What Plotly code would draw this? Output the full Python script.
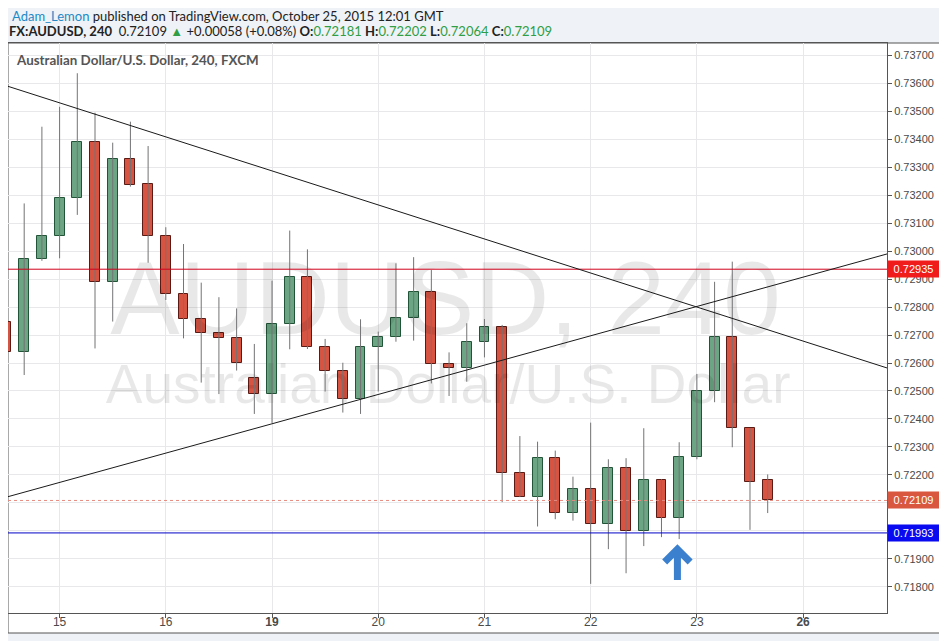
import plotly.graph_objects as go

# ---------------- data (4h candles, index 0..43) ----------------
CANDLE_INDEX = list(range(44))
OPEN = [0.72745, 0.72640, 0.72970, 0.73054, 0.73188, 0.73390, 0.72890, 0.73327, 0.73238, 0.73054,
        0.72845, 0.72756, 0.72706, 0.72688, 0.72545, 0.72488, 0.72738, 0.72908, 0.72656, 0.72573,
        0.72470, 0.72656, 0.72692, 0.72760, 0.72855, 0.72597, 0.72583, 0.72674, 0.72728, 0.72206,
        0.72123, 0.72260, 0.72063, 0.72149, 0.72024, 0.72224, 0.71999, 0.72182, 0.72046, 0.72263,
        0.72500, 0.72692, 0.72367, 0.72181]
HIGH = [0.72819, 0.73170, 0.73444, 0.73515, 0.73635, 0.73494, 0.73387, 0.73462, 0.73375, 0.73085,
        0.73025, 0.72887, 0.72835, 0.72795, 0.72668, 0.72894, 0.73073, 0.73006, 0.72686, 0.72601,
        0.72756, 0.72712, 0.72956, 0.72978, 0.72932, 0.72638, 0.72742, 0.72757, 0.72736, 0.72339,
        0.72319, 0.72287, 0.72194, 0.72387, 0.72256, 0.72260, 0.72367, 0.72185, 0.72317, 0.72561,
        0.72890, 0.72962, 0.72367, 0.72202]
LOW = [0.72462, 0.72557, 0.72965, 0.72974, 0.73129, 0.72652, 0.72748, 0.73230, 0.72958, 0.72825,
       0.72688, 0.72530, 0.72489, 0.72573, 0.72418, 0.72386, 0.72649, 0.72650, 0.72498, 0.72423,
       0.72418, 0.72498, 0.72676, 0.72680, 0.72527, 0.72482, 0.72533, 0.72620, 0.72103, 0.72121,
       0.72016, 0.72042, 0.72037, 0.71811, 0.71935, 0.71849, 0.71946, 0.71978, 0.71971, 0.72256,
       0.72460, 0.72299, 0.72004, 0.72064]
CLOSE = [0.72640, 0.72970, 0.73054, 0.73188, 0.73390, 0.72890, 0.73327, 0.73236, 0.73054, 0.72845,
         0.72756, 0.72706, 0.72688, 0.72601, 0.72488, 0.72738, 0.72908, 0.72656, 0.72573, 0.72470,
         0.72656, 0.72692, 0.72760, 0.72855, 0.72597, 0.72583, 0.72674, 0.72728, 0.72206, 0.72123,
         0.72260, 0.72063, 0.72149, 0.72024, 0.72224, 0.71999, 0.72182, 0.72046, 0.72263, 0.72500,
         0.72692, 0.72367, 0.72174, 0.72109]

DAY_TICK_INDEX = [3, 9, 15, 21, 27, 33, 39, 45]
DAY_TICK_LABELS = ["15", "16", "<b>19</b>", "20", "21", "22", "23", "<b>26</b>"]

RESISTANCE = 0.72935
SUPPORT = 0.71993
LAST_PRICE = 0.72109

TREND_DOWN_X = [0, 50]
TREND_DOWN_Y = [0.73590, 0.72577]
TREND_UP_X = [0, 50]
TREND_UP_Y = [0.72121, 0.72994]

ARROW_X = 37.9
ARROW_TIP = 0.71935
ARROW_TAIL = 0.71825

# ---------------- style ----------------
UP_FILL, UP_LINE = "#6ba583", "#225437"
DN_FILL, DN_LINE = "#d75442", "#5b1a13"
WICK = "#737375"
GRID = "#e8e8ea"
AXIS = "#555555"
PAGE = "#eff2f6"
TICKFONT = dict(family="Liberation Sans, Arial, sans-serif", size=11, color="#4a4a4a")

fig = go.Figure()

# watermark (behind candles)
fig.add_trace(go.Scatter(
    x=[24.8], y=[0.72797], mode="text", text=["AUDUSD, 240"],
    textfont=dict(family="Liberation Sans, Arial, sans-serif", size=104, color="rgba(0,0,0,0.09)"),
    hoverinfo="skip", showlegend=False))
fig.add_trace(go.Scatter(
    x=[24.95], y=[0.72505], mode="text", text=["Australian Dollar/U.S. Dollar"],
    textfont=dict(family="Liberation Sans, Arial, sans-serif", size=55, color="rgba(0,0,0,0.09)"),
    hoverinfo="skip", showlegend=False))

# wicks
wx, wy = [], []
for i, h, l in zip(CANDLE_INDEX, HIGH, LOW):
    wx += [i, i, None]
    wy += [l, h, None]
fig.add_trace(go.Scatter(x=wx, y=wy, mode="lines", line=dict(color=WICK, width=1),
                         hoverinfo="skip", showlegend=False))

# bodies
bases = [min(o, c) for o, c in zip(OPEN, CLOSE)]
heights = [max(abs(c - o), 0.00002) for o, c in zip(OPEN, CLOSE)]
fills = [UP_FILL if c >= o else DN_FILL for o, c in zip(OPEN, CLOSE)]
borders = [UP_LINE if c >= o else DN_LINE for o, c in zip(OPEN, CLOSE)]
fig.add_trace(go.Bar(x=CANDLE_INDEX, y=heights, base=bases, width=0.56,
                     marker=dict(color=fills, line=dict(color=borders, width=1)),
                     showlegend=False, hoverinfo="skip"))

shapes = [
    # chart frame (plot + axis areas)
    dict(type="rect", xref="paper", yref="paper", x0=0, x1=1.0626, y0=-0.0351, y1=1,
         fillcolor="white", line=dict(color=AXIS, width=1), layer="below"),
    dict(type="line", xref="paper", yref="y", x0=0, x1=1, y0=RESISTANCE, y1=RESISTANCE,
         line=dict(color="#d0021b", width=1)),
    dict(type="line", xref="paper", yref="y", x0=0, x1=1, y0=SUPPORT, y1=SUPPORT,
         line=dict(color="#0000c8", width=1)),
    dict(type="line", xref="paper", yref="y", x0=0, x1=1, y0=LAST_PRICE, y1=LAST_PRICE,
         line=dict(color="#e58a80", width=1, dash="dot")),
    dict(type="line", xref="x", yref="y", x0=TREND_DOWN_X[0], x1=TREND_DOWN_X[1],
         y0=TREND_DOWN_Y[0], y1=TREND_DOWN_Y[1], line=dict(color="#1a1a1a", width=1)),
    dict(type="line", xref="x", yref="y", x0=TREND_UP_X[0], x1=TREND_UP_X[1],
         y0=TREND_UP_Y[0], y1=TREND_UP_Y[1], line=dict(color="#1a1a1a", width=1)),
]
# blue arrow marker
head_dx = 0.72
head_dy = 0.00046
arrow_path = (f"M {ARROW_X},{ARROW_TAIL} L {ARROW_X},{ARROW_TIP + 0.00004} "
              f"M {ARROW_X - head_dx},{ARROW_TIP - head_dy} L {ARROW_X},{ARROW_TIP} "
              f"L {ARROW_X + head_dx},{ARROW_TIP - head_dy}")
shapes.append(dict(type="path", xref="x", yref="y", path=arrow_path,
                   line=dict(color="#3a80cf", width=7)))

HEAD_FONT = "Lato, Open Sans, sans-serif"
GREEN = "#2f9e44"
line2 = ("<b>FX:AUDUSD, 240</b>&nbsp; 0.72109 "
         f"<span style='color:{GREEN}'>▲</span> +0.00058 (+0.08%) "
         f"<b>O:</b><span style='color:{GREEN}'>0.72181</span> "
         f"<b>H:</b><span style='color:{GREEN}'>0.72202</span> "
         f"<b>L:</b><span style='color:{GREEN}'>0.72064</span> "
         f"<b>C:</b><span style='color:{GREEN}'>0.72109</span>")

annotations = [
    dict(xref="paper", yref="paper", x=0.002, y=1.0478, xanchor="left", yanchor="middle",
         showarrow=False,
         text="<span style='color:#2189c6'>Adam_Lemon</span> published on TradingView.com, October 25, 2015 12:01 GMT",
         font=dict(family=HEAD_FONT, size=13, color="#222")),
    dict(xref="paper", yref="paper", x=-0.001, y=1.0205, xanchor="left", yanchor="middle",
         showarrow=False, text=line2, font=dict(family=HEAD_FONT, size=13, color="#222")),
    dict(xref="paper", yref="paper", x=0.007, y=0.9695, xanchor="left", yanchor="middle",
         showarrow=False, text="<b>Australian Dollar/U.S. Dollar, 240, FXCM</b>",
         font=dict(family=HEAD_FONT, size=13.4, color="#555")),
]
for price, bg in [(RESISTANCE, "#f01c1c"), (LAST_PRICE, "#d9573f"), (SUPPORT, "#0a0af0")]:
    annotations.append(dict(xref="paper", yref="y", x=1, y=price, xanchor="left", yanchor="middle",
                            showarrow=False, text=f"{price:.5f}", bgcolor=bg, width=47, height=12,
                            borderpad=2, align="center",
                            font=dict(family="Liberation Sans, Arial, sans-serif", size=11, color="white")))

fig.update_layout(
    width=939, height=633, autosize=False,
    margin=dict(l=0, r=60, t=35, b=28),
    paper_bgcolor=PAGE, plot_bgcolor="white",
    shapes=shapes, annotations=annotations,
    bargap=0, showlegend=False,
    xaxis=dict(range=[0.085, 49.74], tickvals=DAY_TICK_INDEX, ticktext=DAY_TICK_LABELS,
               showgrid=True, gridcolor=GRID, zeroline=False, ticks="outside", ticklen=4,
               tickcolor=AXIS, showline=True, linecolor=AXIS, mirror=True,
               ticklabelstandoff=-6,
               tickfont=dict(family="Liberation Sans, Arial, sans-serif", size=12, color="#4a4a4a")),
    yaxis=dict(range=[0.71707, 0.73743], side="right", dtick=0.001, tick0=0.718,
               tickformat=".5f", showgrid=True, gridcolor=GRID, zeroline=False,
               ticks="outside", ticklen=4, tickcolor=AXIS, showline=True, linecolor=AXIS,
               mirror=True, tickfont=TICKFONT),
)

fig.write_html("out.html")
